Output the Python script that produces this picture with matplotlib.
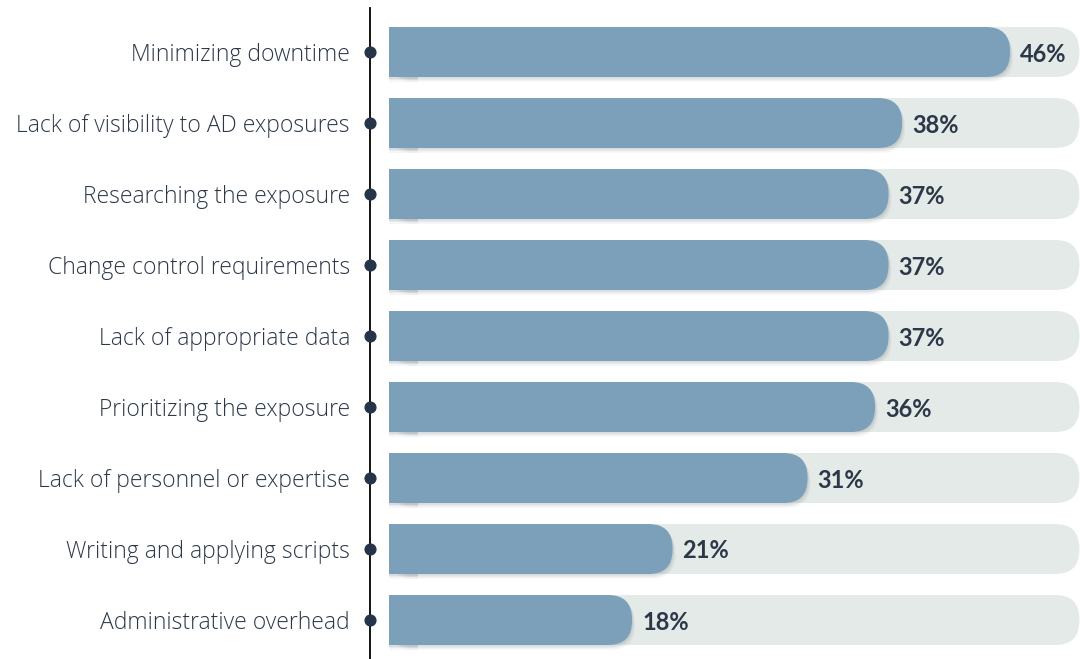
import matplotlib.pyplot as plt
from matplotlib.patches import FancyBboxPatch, Rectangle

categories = [
    "Minimizing downtime",
    "Lack of visibility to AD exposures",
    "Researching the exposure",
    "Change control requirements",
    "Lack of appropriate data",
    "Prioritizing the exposure",
    "Lack of personnel or expertise",
    "Writing and applying scripts",
    "Administrative overhead",
]
values = [46, 38, 37, 37, 37, 36, 31, 21, 18]

BAR = "#7ca0ba"
TRACK = "#e4eae8"
TEXT = "#2c3848"
DOT = "#26344a"

W, H, DPI = 1080, 659, 100
px_x = 13.5          # pixels per percentage point
px_y = 71.0          # pixels per row
left_px = 389

fig = plt.figure(figsize=(W / DPI, H / DPI), dpi=DPI)
ax = fig.add_axes([left_px / W, 0, 1 - left_px / W, 1])
xmax = (W - left_px) / px_x
ax.set_xlim(0, xmax)
ax.set_ylim((H - 52) / px_y, -52 / px_y)
ax.axis("off")

h = 50 / px_y
rad = 24 / px_x
asp = px_x / px_y


def rbar(x0, x1, y, color, z, alpha=1.0):
    # rounded on the right only: round box plus a square block over the left corners
    ax.add_patch(FancyBboxPatch((x0, y - h / 2), x1 - x0, h,
                                boxstyle=f"round,pad=0,rounding_size={rad}",
                                mutation_aspect=asp, fc=color, ec="none",
                                zorder=z, alpha=alpha, clip_on=False))
    ax.add_patch(Rectangle((x0, y - h / 2), min(rad * 1.2, (x1 - x0) / 2), h,
                           fc=color, ec="none", zorder=z, alpha=alpha, clip_on=False))


for i, (cat, v) in enumerate(zip(categories, values)):
    rbar(0, xmax - 0.05, i, TRACK, 1)
    # soft drop shadow
    for k, a in ((3, 0.05), (2, 0.07), (1, 0.09)):
        rbar(0, v + k * 0.25 / px_x * 4, i + k * 1.6 / px_y, "#4a5a66", 2, a)
    rbar(0, v, i, BAR, 3)
    ax.text(v + 10 / px_x, i, f"{v}%", ha="left", va="center_baseline", fontsize=17,
            fontweight="bold", color=TEXT, family=["Lato", "DejaVu Sans"], zorder=4)
    ax.text(-39 / px_x, i, cat, ha="right", va="center_baseline", fontsize=16.5,
            fontweight=300, color=TEXT, family=["Open Sans", "DejaVu Sans"],
            clip_on=False)

line_x = -19 / px_x
ax.axvline(line_x, ymin=0, ymax=1 - 8 / H, color="black", lw=1.3, clip_on=False)
ax.scatter([line_x] * len(values), range(len(values)), s=60, color=DOT,
           zorder=5, clip_on=False)

fig.savefig("out.png", dpi=DPI)
